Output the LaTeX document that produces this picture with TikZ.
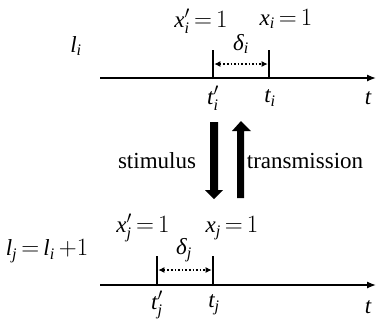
\documentclass[tikz,border=0pt]{standalone}
\usepackage{amsmath}
\usepackage{fontspec}
\setmainfont{Liberation Serif}
\usetikzlibrary{arrows.meta}
\newcommand{\iv}[1]{\textit{#1}}
\newcommand{\pr}{\prime}
\begin{document}
\begin{tikzpicture}[x=1pt,y=-1pt,
  lab/.style={inner sep=0pt,font=\fontsize{23}{26}\selectfont},
  axis/.style={line width=1.3pt,-{Latex[length=9pt,width=7pt]}},
  tick/.style={line width=2.6pt},
  gap/.style={line width=1.6pt,dotted,{Latex[length=6pt,width=6pt]}-{Latex[length=6pt,width=6pt]},shorten <=1.3pt,shorten >=1.3pt},
  bigarrow/.style={fill=black,draw=none}]
\useasboundingbox (0,0) rectangle (380,322);
% top timeline
\coordinate (a1s) at (100,78);
\coordinate (a1e) at (376,78);
\draw[axis] (a1s) -- (a1e);
\coordinate (p1b) at (213,79); \coordinate (p1t) at (213,50);
\coordinate (q1b) at (269,79); \coordinate (q1t) at (269,50);
\draw[tick] (p1b) -- (p1t);
\draw[tick] (q1b) -- (q1t);
\coordinate (g1l) at (213,64); \coordinate (g1r) at (269,64);
\draw[gap] (g1l) -- (g1r);
\node[lab] (li) at (76,46) {$\iv{l}_{\iv{i}}$};
\node[lab] (xpi) at (201,21) {$\iv{x}^{\pr}_{\iv{i}}\,{=}\,1$};
\node[lab] (xi) at (286,19) {$\iv{x}_{\iv{i}}\,{=}\,1$};
\node[lab] (di) at (241,44) {$\iv{δ}_{\iv{i}}$};
\node[lab] (tpi) at (213,98) {$\iv{t}^{\pr}_{\iv{i}}$};
\node[lab] (ti) at (270,98) {$\iv{t}_{\iv{i}}$};
\node[lab] (t1) at (368,98) {$\iv{t}$};
% big arrows
\fill[bigarrow] (210,122) -- (218,122) -- (218,190) -- (223,190) -- (214,199) -- (205,190) -- (210,190) -- cycle;
\fill[bigarrow] (237,198) -- (244,198) -- (244,131) -- (251,131) -- (241,121) -- (232,131) -- (237,131) -- cycle;
\node[lab] (stim) at (157,161) {stimulus};
\node[lab] (trans) at (305,161) {transmission};
% bottom timeline
\coordinate (a2s) at (100,285);
\coordinate (a2e) at (376,285);
\draw[axis] (a2s) -- (a2e);
\coordinate (p2b) at (157,286); \coordinate (p2t) at (157,256);
\coordinate (q2b) at (213,286); \coordinate (q2t) at (213,256);
\draw[tick] (p2b) -- (p2t);
\draw[tick] (q2b) -- (q2t);
\coordinate (g2l) at (157,270); \coordinate (g2r) at (213,270);
\draw[gap] (g2l) -- (g2r);
\node[lab] (lj) at (47,251) {$\iv{l}_{\iv{j}}\,{=}\,\iv{l}_{\iv{i}}\,{+}1$};
\node[lab] (xpj) at (143,228) {$\iv{x}^{\pr}_{\iv{j}}\,{=}\,1$};
\node[lab] (xj) at (232,228) {$\iv{x}_{\iv{j}}\,{=}\,1$};
\node[lab] (dj) at (184,250) {$\iv{δ}_{\iv{j}}$};
\node[lab] (tpj) at (157,305) {$\iv{t}^{\pr}_{\iv{j}}$};
\node[lab] (tj) at (214,305) {$\iv{t}_{\iv{j}}$};
\node[lab] (t2) at (368,307) {$\iv{t}$};
\end{tikzpicture}
\end{document}
